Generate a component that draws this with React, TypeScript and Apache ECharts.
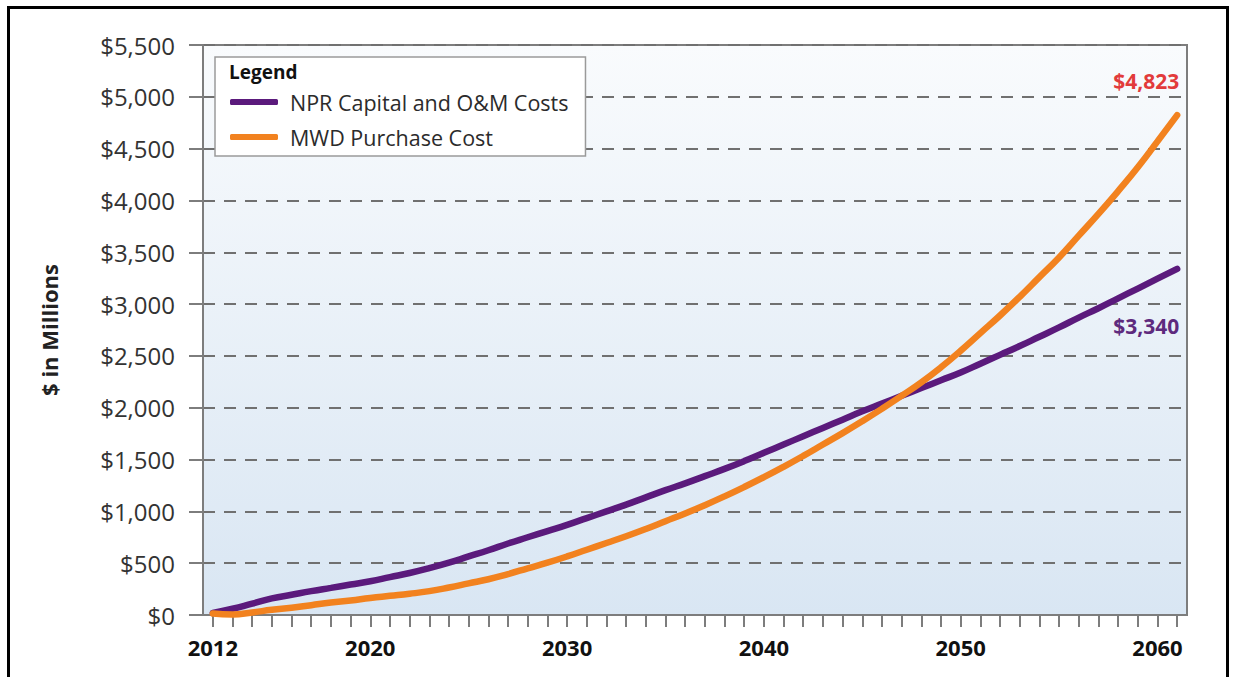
import { useEffect, useRef } from "react";
import * as echarts from "echarts";

// Years along the horizontal axis
const years = [
  "2012", "2013", "2014", "2015", "2016", "2017", "2018", "2019", "2020", "2021",
  "2022", "2023", "2024", "2025", "2026", "2027", "2028", "2029", "2030", "2031",
  "2032", "2033", "2034", "2035", "2036", "2037", "2038", "2039", "2040", "2041",
  "2042", "2043", "2044", "2045", "2046", "2047", "2048", "2049", "2050", "2051",
  "2052", "2053", "2054", "2055", "2056", "2057", "2058", "2059", "2060", "2061",
];

// Years that carry a printed label
const labelledYears = ["2012", "2020", "2030", "2040", "2050", "2060"];

// Cumulative NPR capital and O&M costs ($ millions)
const nprCosts = [
  20, 60, 110, 160, 195, 230, 262, 294, 325, 365,
  405, 452, 505, 565, 625, 690, 750, 810, 870, 935,
  1000, 1065, 1135, 1205, 1270, 1340, 1410, 1485, 1565, 1645,
  1725, 1805, 1885, 1965, 2040, 2115, 2190, 2265, 2340, 2425,
  2510, 2595, 2685, 2775, 2870, 2960, 3055, 3150, 3245, 3340,
];

// Cumulative MWD purchase cost ($ millions)
const mwdCosts = [
  15, 5, 25, 50, 70, 95, 120, 140, 165, 185,
  205, 230, 265, 305, 345, 395, 450, 505, 565, 630,
  695, 760, 830, 905, 980, 1060, 1145, 1235, 1330, 1430,
  1535, 1645, 1755, 1870, 1990, 2115, 2245, 2390, 2550, 2720,
  2890, 3070, 3260, 3450, 3660, 3870, 4090, 4320, 4570, 4823,
];

const seriesNames = ["NPR Capital and O&M Costs", "MWD Purchase Cost"];

const PURPLE = "#5b1a7c";
const ORANGE = "#f2821f";
const AXIS_GRAY = "#7d7d7d";
const SANS = "'Open Sans', 'Noto Sans', sans-serif";

const money = (v: number) => "$" + v.toLocaleString("en-US");

export default function App() {
  const ref = useRef<HTMLDivElement>(null);

  useEffect(() => {
    if (!ref.current) return;
    const chart = echarts.init(ref.current, undefined, { renderer: "svg" });

    chart.setOption({
      animation: false,
      backgroundColor: "#ffffff",
      grid: {
        left: 203,
        top: 45,
        right: 49,
        bottom: 62,
        show: true,
        borderColor: AXIS_GRAY,
        borderWidth: 2,
        backgroundColor: new echarts.graphic.LinearGradient(0, 0, 0, 1, [
          { offset: 0, color: "#f9fbfd" },
          { offset: 1, color: "#d9e6f3" },
        ]),
      },
      legend: {
        orient: "vertical",
        left: 215,
        top: 57,
        padding: [33, 17, 7, 15],
        backgroundColor: "#ffffff",
        borderColor: "#9a9a9a",
        borderWidth: 1.5,
        itemWidth: 48,
        itemHeight: 6,
        itemGap: 11,
        icon: "roundRect",
        textStyle: {
          fontFamily: SANS,
          fontSize: 21.5,
          lineHeight: 24,
          color: "#2b2b2b",
          padding: [0, 0, 0, 7],
        },
        data: seriesNames,
      },
      graphic: [
        {
          type: "text",
          left: 229,
          top: 62,
          z: 100,
          style: {
            text: "Legend",
            fontFamily: SANS,
            fontWeight: "bold",
            fontSize: 19,
            fill: "#111111",
          },
        },
        {
          type: "rect",
          z: 100,
          silent: true,
          shape: { x: 8.5, y: 7.5, width: 1219, height: 700 },
          style: { fill: "none", stroke: "#000000", lineWidth: 3 },
        },
      ],
      xAxis: {
        type: "category",
        data: years,
        boundaryGap: true,
        axisLine: { show: true, lineStyle: { color: AXIS_GRAY, width: 2 } },
        axisTick: {
          show: true,
          interval: 0,
          alignWithLabel: true,
          length: 12,
          lineStyle: { color: AXIS_GRAY, width: 2 },
        },
        axisLabel: {
          interval: (_i: number, v: string) => labelledYears.includes(v),
          margin: 21,
          fontFamily: SANS,
          fontWeight: "bold",
          fontSize: 22,
          color: "#111111",
        },
        splitLine: { show: false },
      },
      yAxis: {
        type: "value",
        min: 0,
        max: 5500,
        interval: 500,
        name: "$ in Millions",
        nameLocation: "middle",
        nameGap: 143,
        nameTextStyle: {
          fontFamily: SANS,
          fontWeight: "bold",
          fontSize: 22,
          color: "#222222",
        },
        axisLine: { show: true, lineStyle: { color: AXIS_GRAY, width: 2 } },
        axisTick: {
          show: true,
          length: 14,
          lineStyle: { color: AXIS_GRAY, width: 2 },
        },
        axisLabel: {
          margin: 28,
          fontFamily: SANS,
          fontSize: 24,
          color: "#333333",
          formatter: (v: number) => money(v),
        },
        splitLine: {
          show: true,
          lineStyle: { color: "#707070", width: 2, type: [12, 9] },
        },
      },
      series: [
        {
          name: seriesNames[0],
          type: "line",
          data: nprCosts,
          smooth: 0.5,
          showSymbol: false,
          symbol: "none",
          lineStyle: { color: PURPLE, width: 6.5, cap: "round" },
          itemStyle: { color: PURPLE },
          z: 3,
          endLabel: {
            show: true,
            distance: 0,
            align: "right",
            verticalAlign: "middle",
            offset: [2, 57],
            formatter: (p: any) => money(p.value),
            fontFamily: SANS,
            fontWeight: "bold",
            fontSize: 21,
            color: "#5e2a7e",
          },
        },
        {
          name: seriesNames[1],
          type: "line",
          data: mwdCosts,
          smooth: 0.5,
          showSymbol: false,
          symbol: "none",
          lineStyle: { color: ORANGE, width: 6.5, cap: "round" },
          itemStyle: { color: ORANGE },
          z: 4,
          endLabel: {
            show: true,
            distance: 0,
            align: "right",
            verticalAlign: "middle",
            offset: [2, -34],
            formatter: (p: any) => money(p.value),
            fontFamily: SANS,
            fontWeight: "bold",
            fontSize: 21,
            color: "#e23b3b",
          },
        },
      ],
    });

    return () => chart.dispose();
  }, []);

  return (
    <div
      ref={ref}
      style={{ position: "fixed", left: 0, top: 0, width: 1236, height: 677 }}
    />
  );
}
